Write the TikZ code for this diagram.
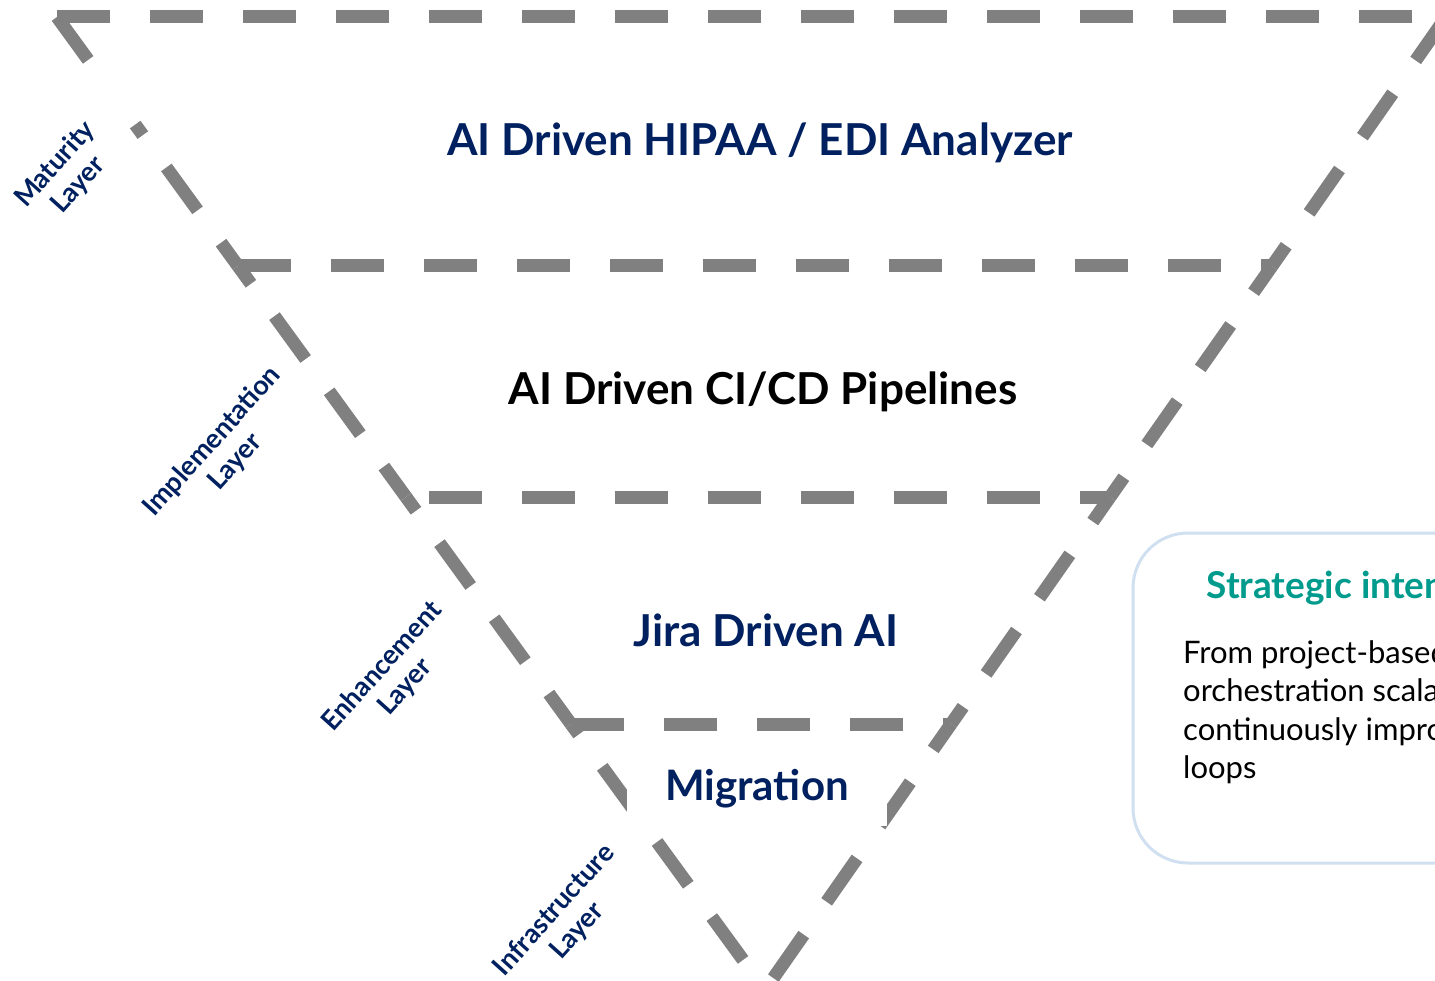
\documentclass[tikz,border=0pt]{standalone}
\usepackage{fontspec}
\setmainfont{Lato}

\definecolor{layernavy}{RGB}{0,32,96}
\definecolor{layergray}{RGB}{128,128,128}
\definecolor{intentteal}{RGB}{0,155,140}
\definecolor{intentframe}{RGB}{208,224,240}

\tikzset{
  layerline/.style={draw=layergray, line width=13pt, dash pattern=on 53pt off 40pt},
  layertitle/.style={anchor=base, font=\fontsize{44}{52}\selectfont\bfseries},
  sidelabel/.style={text=layernavy, align=center, rotate=48,
    font=\fontsize{27}{31}\selectfont\bfseries},
}

\begin{document}
\begin{tikzpicture}[x=1pt, y=-1pt]
    \useasboundingbox (0,0) rectangle (1435,981);
    \clip (0,0) rectangle (1435,981);

    % corners of the funnel, top to bottom
    \coordinate (tl0) at (57,17);
    \coordinate (tr0) at (1446,17);
    \coordinate (bl1) at (238,266);
    \coordinate (br1) at (1272,266);
    \coordinate (bl2) at (406,497);
    \coordinate (br2) at (1110,497);
    \coordinate (bl3) at (571,724);
    \coordinate (br3) at (951,724);
    \coordinate (tip) at (765,990);

    % outer edges
    \draw[layerline] (tl0) -- (tr0);
    \draw[layerline, dash pattern=on 53pt off 80pt on 13pt off 40pt on 53pt off 40pt on 53pt off 40pt] (tl0) -- (bl1);
    \draw[layerline, dash phase=31pt] (bl1) -- (bl2);
    \draw[layerline, dash phase=36pt] (bl2) -- (bl3);
    \draw[layerline, dash phase=40pt] (bl3) -- (tip);
    \draw[layerline] (tr0) -- (br1);
    \draw[layerline, dash phase=21pt] (br1) -- (br2);
    \draw[layerline, dash phase=23pt] (br2) -- (br3);
    \draw[layerline, dash phase=22pt] (br3) -- (tip);

    % layer borders
    \draw[layerline] (bl1) -- (br1);
    \draw[layerline, dash phase=70pt] (bl2) -- (br2);
    \draw[layerline] (bl3) -- (br3);

    % layer titles
    \node[layertitle, text=layernavy] (hipaa) at (760,156) {AI Driven HIPAA / EDI Analyzer};
    \node[layertitle] (cicd) at (763,404) {AI Driven CI/CD Pipelines};
    \node[layertitle, text=layernavy] (jira) at (766,646) {Jira Driven AI};
    \fill[white] (627,746) rectangle (887,826);
    \node[layertitle, text=layernavy, font=\fontsize{42}{50}\selectfont\bfseries] (migration) at (757,800) {Migration};

    % layer names along the left side
    \node[sidelabel] (maturity) at (67,175) {Maturity\\Layer};
    \node[sidelabel] (implementation) at (224,452) {Implementation\\Layer};
    \node[sidelabel] (enhancement) at (394,677) {Enhancement\\Layer};
    \node[sidelabel] (infrastructure) at (566,921) {Infrastructure\\Layer};

    % strategic intent card
    \draw[intentframe, line width=3pt, fill=white, rounded corners=55pt] (1133,533) rectangle (1700,863);
    \node[anchor=base west, text=intentteal, font=\fontsize{37}{44}\selectfont\bfseries] (intent) at (1203,598) {Strategic intent};
    \node[anchor=north west, align=left, inner sep=0pt, font=\fontsize{31}{38.5}\selectfont] (intentbody) at (1183,640)
        {From project-based\\orchestration scalable\\continuously improving\\loops};
\end{tikzpicture}
\end{document}
